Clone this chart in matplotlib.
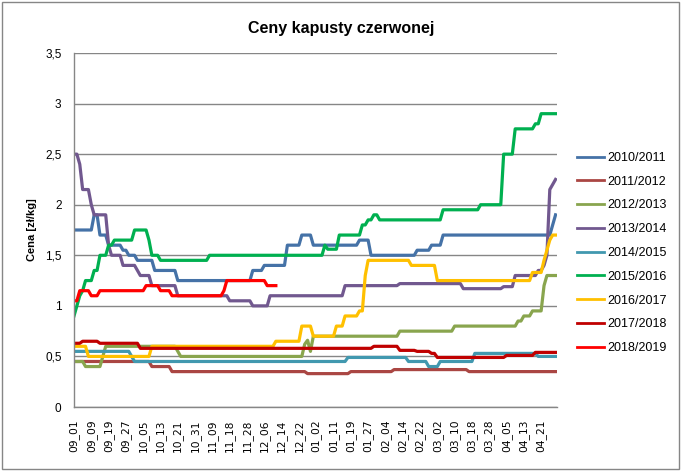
import numpy as np
import matplotlib
matplotlib.use('Agg')
import matplotlib.pyplot as plt
from matplotlib.ticker import FuncFormatter, MultipleLocator
from matplotlib.patches import Rectangle

# tick labels (one every 6 readings)
tick_labels = ['09_01', '09_09', '09_19', '09_27', '10_05', '10_13', '10_21',
               '10_31', '11_09', '11_18', '11_28', '12_06', '12_14', '12_22',
               '01_02', '01_11', '01_19', '01_27', '02_04', '02_14', '02_22',
               '03_02', '03_10', '03_18', '03_28', '04_05', '04_13', '04_21']
n_points = 168
step = 6

seasons = ['2010/2011', '2011/2012', '2012/2013', '2013/2014', '2014/2015',
           '2015/2016', '2016/2017', '2017/2018', '2018/2019']
colors = ['#4572A7', '#AA4643', '#89A54E', '#71588F', '#4198AF',
          '#00B050', '#FFC000', '#C00000', '#FF0000']

# prices stored as (value, how many readings it stays)
s2010_val = [1.75, 1.9, 1.7, 1.6, 1.55, 1.5, 1.45, 1.35, 1.25, 1.35, 1.4, 1.6, 1.7,
             1.6, 1.65, 1.5, 1.55, 1.6, 1.7, 1.8, 1.9]
s2010_cnt = [7, 2, 3, 5, 2, 3, 6, 8, 26, 4, 8, 5, 4, 16, 4, 16, 5, 4, 38, 1, 1]

s2011_val = [0.45, 0.4, 0.35, 0.33, 0.35, 0.37, 0.35]
s2011_cnt = [27, 7, 47, 15, 15, 26, 31]

s2012_val = [0.45, 0.4, 0.5, 0.6, 0.55, 0.5, 0.62, 0.66, 0.55, 0.7, 0.75, 0.8,
             0.85, 0.9, 0.95, 1.2, 1.3]
s2012_cnt = [4, 6, 1, 25, 1, 43, 1, 1, 1, 30, 19, 22, 2, 3, 4, 1, 4]

s2013_val = [2.5, 2.4, 2.15, 2.0, 1.9, 1.6, 1.5, 1.4, 1.35, 1.3, 1.2, 1.1, 1.05,
             1.0, 1.1, 1.2, 1.22, 1.17, 1.19, 1.3, 1.35, 1.4, 1.5, 2.15, 2.2, 2.25]
s2013_cnt = [2, 1, 3, 1, 5, 1, 4, 5, 1, 4, 9, 18, 8, 6, 26, 19, 22, 14, 4, 8, 2,
             1, 1, 1, 1, 1]

s2014_val = [0.55, 0.5, 0.45, 0.49, 0.45, 0.4, 0.45, 0.53, 0.5]
s2014_cnt = [20, 1, 74, 21, 7, 4, 12, 22, 7]

s2015_val = [0.9, 1.0, 1.1, 1.15, 1.25, 1.35, 1.5, 1.6, 1.65, 1.75, 1.65, 1.5,
             1.45, 1.5, 1.6, 1.56, 1.7, 1.8, 1.85, 1.9, 1.85, 1.95, 2.0, 2.5,
             2.75, 2.8, 2.9]
s2015_cnt = [1, 1, 1, 1, 3, 2, 3, 2, 7, 5, 1, 3, 17, 40, 1, 4, 8, 2, 2, 2, 22,
             13, 8, 4, 7, 2, 6]

s2016_val = [0.6, 0.5, 0.6, 0.65, 0.8, 0.7, 0.8, 0.9, 0.95, 1.3, 1.45, 1.4,
             1.25, 1.33, 1.45, 1.55, 1.65, 1.7]
s2016_cnt = [5, 22, 43, 9, 4, 8, 3, 5, 2, 1, 15, 9, 33, 4, 1, 1, 1, 2]

s2017_val = [0.63, 0.65, 0.63, 0.58, 0.6, 0.56, 0.55, 0.53, 0.49, 0.51, 0.54]
s2017_cnt = [3, 6, 14, 81, 9, 6, 5, 2, 24, 10, 8]

s2018_val = [1.05, 1.15, 1.1, 1.15, 1.2, 1.15, 1.1, 1.15, 1.25, 1.2]
s2018_cnt = [2, 4, 3, 16, 5, 4, 18, 1, 14, 4]

runs = [(s2010_val, s2010_cnt), (s2011_val, s2011_cnt), (s2012_val, s2012_cnt),
        (s2013_val, s2013_cnt), (s2014_val, s2014_cnt), (s2015_val, s2015_cnt),
        (s2016_val, s2016_cnt), (s2017_val, s2017_cnt), (s2018_val, s2018_cnt)]

fig = plt.figure(figsize=(6.81, 4.71), dpi=100)
ax = fig.add_axes([74 / 681, 1 - 407 / 471, (557 - 74) / 681, (407 - 53) / 471])

x = np.arange(n_points)
for (vals, cnts), name, col in zip(runs, seasons, colors):
    y = np.full(n_points, np.nan)
    series = np.repeat(vals, cnts)
    y[:len(series)] = series
    ax.plot(x, y, color=col, lw=2.3, label=name, solid_joinstyle='round')

ax.set_xlim(0, n_points - 0.5)
ax.set_ylim(0, 3.5)
ax.yaxis.set_major_locator(MultipleLocator(0.5))
ax.yaxis.set_major_formatter(FuncFormatter(lambda v, p: f'{v:g}'.replace('.', ',')))
ax.set_xticks(x[::step])
ax.set_xticklabels(tick_labels, rotation=90, fontsize=7.7, family='DejaVu Sans')
ax.tick_params(axis='x', length=0, pad=9)
ax.tick_params(axis='y', length=0, pad=9, labelsize=8.5)
for lbl in ax.get_yticklabels():
    lbl.set_family('Liberation Sans')

ax.grid(axis='y', color='#868686', lw=1)
ax.set_axisbelow(True)
for side in ['top', 'right']:
    ax.spines[side].set_visible(False)
for side in ['left', 'bottom']:
    ax.spines[side].set_color('#868686')
    ax.spines[side].set_linewidth(1)

ax.set_ylabel('Cena [zł/kg]', fontsize=8, fontweight='bold', family='Liberation Sans',
              labelpad=6)
fig.text(341 / 681, 1 - 29 / 471, 'Ceny kapusty czerwonej', ha='center', va='center',
         fontsize=11.5, fontweight='bold', family='Liberation Sans')

leg = fig.legend(loc='center left', bbox_to_anchor=(577 / 681, 1 - 253 / 471),
                 frameon=False, borderpad=0, borderaxespad=0, fontsize=9,
                 labelspacing=0.94, handlelength=2.16, handletextpad=0.25,
                 prop={'family': 'Liberation Sans', 'size': 9})
for h in leg.get_lines():
    h.set_linewidth(2)

fig.patches.append(Rectangle((2 / 681, 2 / 471), 677 / 681, 467 / 471,
                             transform=fig.transFigure, fill=False,
                             edgecolor='#868686', lw=1))

fig.savefig('out.png', dpi=100)
